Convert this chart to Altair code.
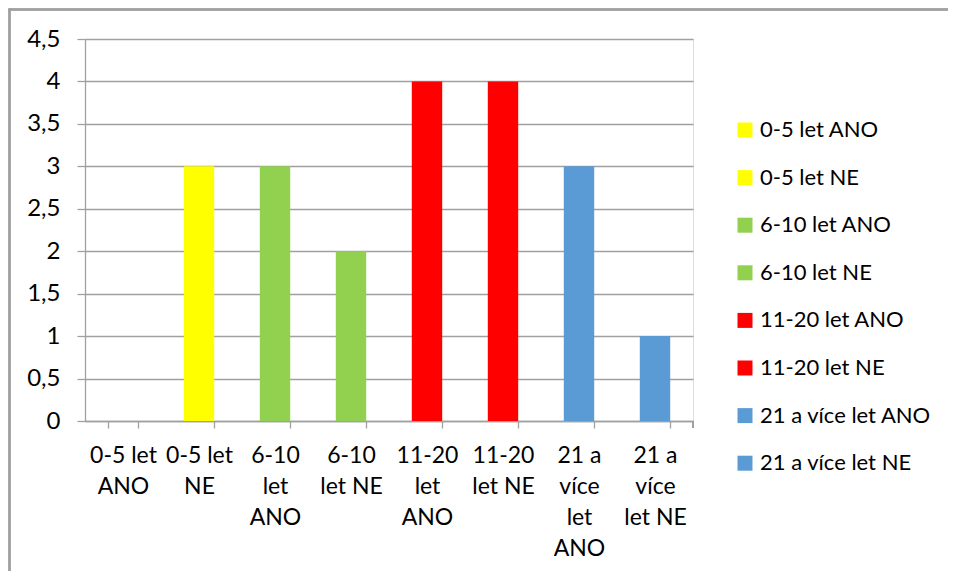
import altair as alt
import pandas as pd

categories = ["0-5 let ANO", "0-5 let NE", "6-10 let ANO", "6-10 let NE",
              "11-20 let ANO", "11-20 let NE", "21 a více let ANO", "21 a více let NE"]
axis_labels = ["0-5 let|ANO", "0-5 let|NE", "6-10|let|ANO", "6-10|let NE",
               "11-20|let|ANO", "11-20|let NE", "21 a|více|let|ANO", "21 a|více|let NE"]
values = [0, 3, 3, 2, 4, 4, 3, 1]
colors = ["#FFFF00", "#FFFF00", "#92D050", "#92D050",
          "#FF0000", "#FF0000", "#5B9BD5", "#5B9BD5"]
y_ticks = [0, 0.5, 1, 1.5, 2, 2.5, 3, 3.5, 4, 4.5]

df = pd.DataFrame({"cat": categories, "lab": axis_labels, "val": values})

FONT = "Lato"
GRAY = "#A0A0A0"
W, H = 608, 382

bars = alt.Chart(df).mark_bar().encode(
    x=alt.X("lab:N", sort=axis_labels,
            scale=alt.Scale(paddingInner=0.6, paddingOuter=0.3),
            axis=alt.Axis(title=None, labelAngle=0, labelExpr="split(datum.label, '|')",
                          labelFontSize=23, labelFont=FONT, labelColor="#000000",
                          labelLineHeight=31, labelPadding=16, labelBaseline="top",
                          tickBand="extent", tickColor=GRAY, tickSize=7, tickWidth=1.3,
                          domainColor=GRAY, domainWidth=1.3, grid=False)),
    y=alt.Y("val:Q", scale=alt.Scale(domain=[0, 4.5], nice=False),
            axis=alt.Axis(title=None, values=y_ticks,
                          labelExpr="replace(format(datum.value, '~g'), '.', ',')",
                          labelFontSize=24, labelFont=FONT, labelColor="#000000",
                          labelPadding=17, tickColor=GRAY, tickSize=8, tickWidth=1.3,
                          domainColor=GRAY, domainWidth=1.3,
                          grid=True, gridColor=GRAY, gridWidth=1.3)),
    color=alt.Color("cat:N", sort=categories,
                    scale=alt.Scale(domain=categories, range=colors),
                    legend=alt.Legend(title=None, orient="none", legendX=649, legendY=80,
                                      symbolType="square", symbolSize=225,
                                      symbolStrokeWidth=0, labelLimit=300,
                                      labelFontSize=22, labelFont=FONT, labelColor="#000000",
                                      labelOffset=4, rowPadding=25.6)),
)

right_tick = alt.Chart(df).mark_rule(color=GRAY, strokeWidth=1.3).encode(
    x=alt.value(W), y=alt.value(H), y2=alt.value(H + 7))

frame_top = alt.Chart(df).mark_rect(color=GRAY, strokeWidth=0).encode(
    x=alt.value(-76.25), x2=alt.value(W + 270), y=alt.value(-30.25), y2=alt.value(-28.75))
frame_left = alt.Chart(df).mark_rect(color=GRAY, strokeWidth=0).encode(
    x=alt.value(-76.25), x2=alt.value(-74.75), y=alt.value(-30.25), y2=alt.value(H + 160))

chart = alt.layer(bars, right_tick, frame_top, frame_left).properties(
    width=W, height=H,
    autosize=alt.AutoSizeParams(type="none"),
    padding={"left": 77, "top": 31, "right": 255, "bottom": 150},
).configure_view(stroke=None).configure(background="white")

chart.save("out.html", embed_options={"renderer": "svg", "actions": False})
